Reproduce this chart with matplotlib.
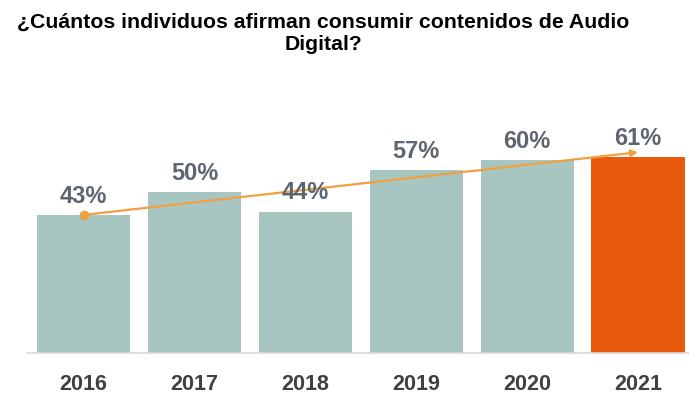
import matplotlib.pyplot as plt

years = ["2016", "2017", "2018", "2019", "2020", "2021"]
values = [43, 50, 44, 57, 60, 61]
value_labels = ["43%", "50%", "44%", "57%", "60%", "61%"]
bar_colors = ["#A7C5C1"] * 5 + ["#E85A0C"]

plt.rcParams["font.family"] = ["Liberation Sans", "DejaVu Sans"]

fig = plt.figure(figsize=(6.89, 3.98), dpi=100)
ax = fig.add_axes([0.0392, 0.113, 0.9608, 0.565])

x = list(range(len(years)))
ax.bar(x, values, width=0.84, color=bar_colors, zorder=2)

# Value labels above bars
for xi, v, lab in zip(x, values, value_labels):
    ax.text(xi, v + 2.3, lab, ha="center", va="bottom", fontsize=17,
            fontweight="bold", color="#5D6570", zorder=4)

# Trend arrow from first to last bar
ax.annotate("", xy=(x[-1], values[-1] + 1.5), xytext=(x[0], values[0]),
            arrowprops=dict(arrowstyle="-|>", color="#EFA040", lw=1.6,
                            mutation_scale=10, shrinkA=0, shrinkB=0),
            zorder=3)
ax.plot(x[0], values[0], "o", color="#EFA040", markersize=6, zorder=3)

ax.set_xlim(-0.51, 5.46)
ax.set_ylim(0, 70)
ax.set_xticks(x)
ax.set_xticklabels(years, fontsize=15.5, fontweight="bold", color="#404040")
ax.tick_params(axis="x", length=0, pad=15)
ax.set_yticks([])
for side in ["top", "right", "left"]:
    ax.spines[side].set_visible(False)
ax.spines["bottom"].set_color("#D9D9D9")
ax.spines["bottom"].set_linewidth(1.2)

fig.text(0.469, 0.917, "¿Cuántos individuos afirman consumir contenidos de Audio\nDigital?",
         ha="center", va="center", fontsize=15.3, fontweight="bold", color="#000000",
         linespacing=1.22)

fig.savefig("out.png", dpi=100)
